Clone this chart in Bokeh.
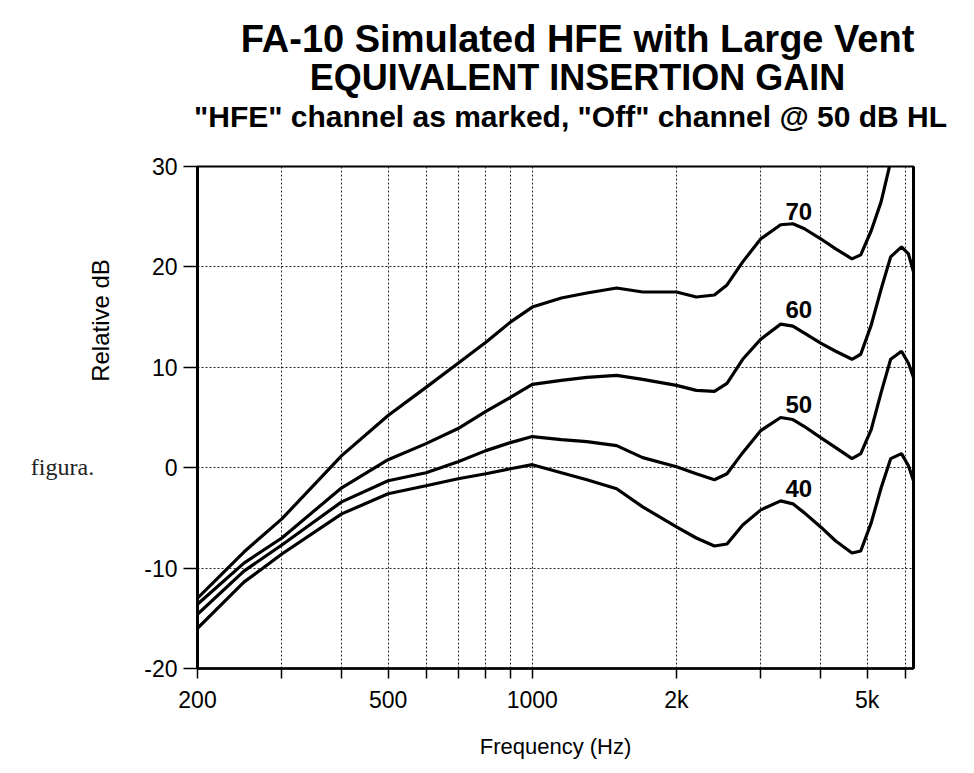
import math
from bokeh.plotting import figure
from bokeh.models import FixedTicker, LinearAxis, Label, Range1d
from bokeh.layouts import column, row
from bokeh.core.properties import value
from bokeh.embed import file_html
from bokeh.resources import INLINE

# ---- data ----
freq_hz = [200, 250, 300, 400, 500, 600, 700, 800, 900, 1000, 1150, 1300, 1500,
           1700, 2000, 2200, 2400, 2550, 2750, 3000, 3300, 3500, 3700, 4000,
           4300, 4650, 4850, 5100, 5350, 5600, 5900, 6100, 6250]
gain_70 = [-13.0, -8.4, -5.1, 1.2, 5.2, 8.0, 10.4, 12.5, 14.5, 16.0, 16.9, 17.4, 17.9,
           17.5, 17.5, 17.0, 17.2, 18.2, 20.5, 22.8, 24.2, 24.3, 23.8, 22.8,
           21.8, 20.8, 21.2, 23.6, 26.5, 30.5, 35.0, 38.0, 40.0]
gain_60 = [-13.6, -9.5, -7.0, -2.0, 0.8, 2.4, 3.9, 5.6, 7.0, 8.3, 8.7, 9.0, 9.2,
           8.8, 8.2, 7.7, 7.6, 8.4, 10.8, 12.8, 14.3, 14.1, 13.4, 12.4,
           11.6, 10.8, 11.3, 14.2, 17.8, 21.0, 22.0, 21.3, 19.5]
gain_50 = [-14.6, -10.3, -7.7, -3.4, -1.3, -0.5, 0.6, 1.7, 2.5, 3.1, 2.8, 2.6, 2.2,
           1.0, 0.1, -0.6, -1.2, -0.6, 1.5, 3.7, 5.0, 4.8, 4.1, 3.0,
           2.0, 0.9, 1.4, 3.8, 7.5, 10.8, 11.6, 10.4, 9.0]
gain_40 = [-16.0, -11.4, -8.6, -4.6, -2.6, -1.8, -1.1, -0.6, -0.1, 0.3, -0.5, -1.2, -2.1,
           -3.9, -5.9, -7.0, -7.8, -7.6, -5.7, -4.2, -3.3, -3.6, -4.5, -5.9,
           -7.3, -8.5, -8.3, -5.5, -2.0, 0.9, 1.4, 0.2, -1.3]
series_names = ["70", "60", "50", "40"]
series_values = [gain_70, gain_60, gain_50, gain_40]
label_freq = [3600, 3600, 3600, 3600]
label_db = [25.5, 15.8, 6.3, -2.1]

x_major_ticks = [200, 500, 1000, 2000, 5000]
x_minor_ticks = [300, 400, 600, 700, 800, 900, 3000, 4000, 6000]
x_tick_labels = {200: "200", 500: "500", 1000: "1000", 2000: "2k", 5000: "5k"}
y_ticks = [-20, -10, 0, 10, 20, 30]
y_tick_labels = {-20: "-20", -10: "-10", 0: "0", 10: "10", 20: "20", 30: "30"}

title_lines = ["FA-10 Simulated HFE with Large Vent",
               "EQUIVALENT INSERTION GAIN",
               '"HFE" channel as marked, "Off" channel @ 50 dB HL']
y_title = "Relative dB"
x_title = "Frequency (Hz)"
side_text = "figura."

FONT = "Liberation Sans"
TOTAL_W = 958
TOP_H = 152
LEFT_W = 120
MAIN_H = 613
BORDER_TOP = 14
BORDER_BOTTOM = 97


def no_frame_align(f):
    if "frame_align" in f.properties():
        f.frame_align = False


def blank(width, height, y0, y1, top=0, bottom=0):
    # ranges are page pixels (y negated) so texts sit where the reference has them
    f = figure(width=width, height=height, title=None,
               x_range=Range1d(0, width), y_range=Range1d(-y1, -y0),
               x_axis_type=None, y_axis_type=None,
               output_backend="svg", toolbar_location=None,
               min_border=0, min_border_left=0, min_border_right=0,
               min_border_top=top, min_border_bottom=bottom)
    f.outline_line_color = None
    f.background_fill_color = "white"
    f.border_fill_color = "white"
    f.xgrid.visible = False
    f.ygrid.visible = False
    no_frame_align(f)
    return f


# ---- title block (page y 0..152) ----
top = blank(TOTAL_W, TOP_H, 0, TOP_H)
title_x = [577, 577, 570]
title_base = [38, 77, 116]
title_size = ["38px", "36px", "30px"]
for txt, tx, ty, fs in zip(title_lines, title_x, title_base, title_size):
    top.text(x=[tx], y=[-ty], text=[txt], text_font=value(FONT),
             text_font_style="bold", text_font_size=fs, text_align="center",
             text_baseline="alphabetic", text_color="black")

# ---- left block: frame spans page y 166..668, same as the chart frame ----
frame_top = TOP_H + BORDER_TOP
frame_bottom = TOP_H + MAIN_H - BORDER_BOTTOM
left = blank(LEFT_W, MAIN_H, frame_top, frame_bottom, top=BORDER_TOP, bottom=BORDER_BOTTOM)
left.text(x=[100], y=[-320], text=[y_title], angle=math.pi / 2,
          text_font=value(FONT), text_font_size="24px", text_align="center",
          text_baseline="middle", text_color="black")
left.text(x=[62], y=[-466], text=[side_text],
          text_font=value("Liberation Serif"), text_font_size="24px",
          text_align="center", text_baseline="middle", text_color="#222222")

# ---- main chart ----
p = figure(width=TOTAL_W - LEFT_W, height=MAIN_H, x_axis_type="log",
           x_range=Range1d(200, 6250), y_range=Range1d(-20, 30),
           output_backend="svg", toolbar_location=None,
           min_border_left=77, min_border_right=45,
           min_border_top=BORDER_TOP, min_border_bottom=BORDER_BOTTOM)
no_frame_align(p)
p.background_fill_color = "white"
p.border_fill_color = "white"
p.outline_line_color = "black"
p.outline_line_width = 2

for vals in series_values:
    p.line(freq_hz, vals, line_color="black", line_width=3.2)

for name, fx, fy in zip(series_names, label_freq, label_db):
    p.add_layout(Label(x=fx, y=fy, text=name, text_font=FONT, text_font_style="bold",
                       text_font_size="24px", text_align="center",
                       text_baseline="middle", text_color="black"))

xa = p.xaxis[0]
xa.ticker = FixedTicker(ticks=x_major_ticks, minor_ticks=x_minor_ticks)
xa.major_label_overrides = x_tick_labels
xa.axis_label = x_title
xa.axis_label_text_font = FONT
xa.axis_label_text_font_style = "normal"
xa.axis_label_text_font_size = "22px"
xa.axis_label_text_color = "black"
xa.axis_label_standoff = 18
xa.major_label_text_font = FONT
xa.major_label_text_font_size = "23px"
xa.major_label_text_color = "black"
xa.major_label_standoff = 8
xa.axis_line_width = 2.5
xa.major_tick_out = 10
xa.major_tick_in = 0
xa.minor_tick_out = 10
xa.minor_tick_in = 0
xa.major_tick_line_width = 1.5
xa.minor_tick_line_width = 1.5

ya = p.yaxis[0]
ya.ticker = FixedTicker(ticks=y_ticks, minor_ticks=[])
ya.major_label_overrides = y_tick_labels
ya.major_label_text_font = FONT
ya.major_label_text_font_size = "23px"
ya.major_label_text_color = "black"
ya.major_label_standoff = 6
ya.axis_line_width = 3
ya.major_tick_out = 14
ya.major_tick_in = 0
ya.major_tick_line_width = 1.5

ra = LinearAxis(ticker=FixedTicker(ticks=[], minor_ticks=[]),
                major_tick_line_color=None, minor_tick_line_color=None,
                major_tick_out=0, minor_tick_out=0, axis_line_width=3)
p.add_layout(ra, "right")

p.xgrid.ticker = FixedTicker(ticks=sorted(x_major_ticks + x_minor_ticks))
p.ygrid.ticker = FixedTicker(ticks=y_ticks)
for g in (p.xgrid[0], p.ygrid[0]):
    g.grid_line_color = "black"
    g.grid_line_dash = "2 2"
    g.grid_line_width = 1
    g.grid_line_alpha = 0.85

layout = column(top, row(left, p, spacing=0), spacing=0)
open("out.html", "w").write(file_html(layout, INLINE))
